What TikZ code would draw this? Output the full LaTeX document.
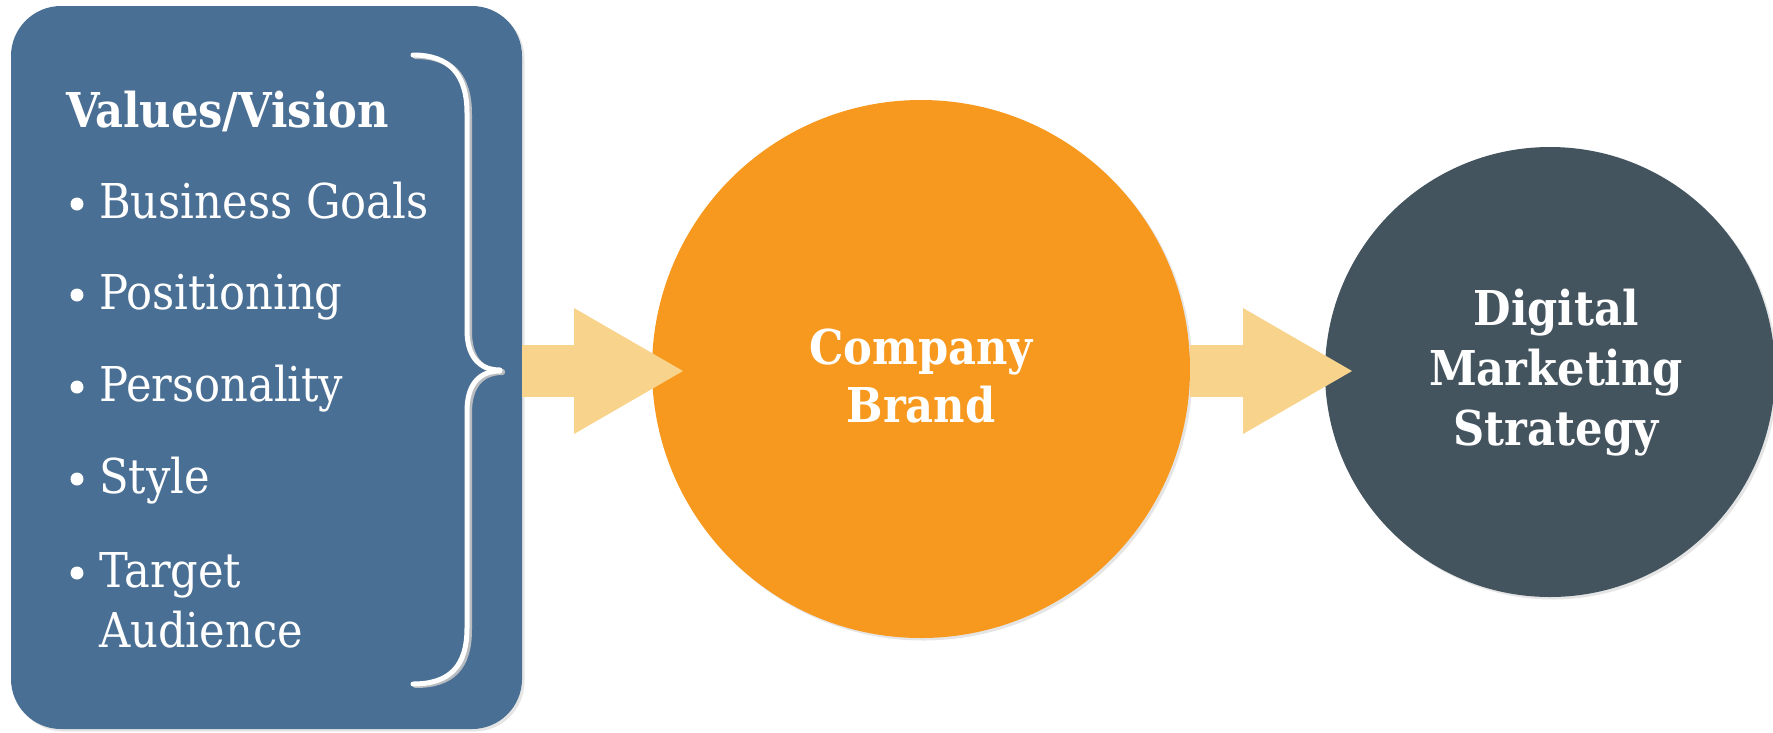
\documentclass[tikz,border=0pt]{standalone}
\usepackage{fontspec}
\setmainfont{DejaVu Serif Condensed}
\usetikzlibrary{arrows.meta}
\definecolor{boxblue}{HTML}{4A6F94}
\definecolor{brandorange}{HTML}{F7991E}
\definecolor{darkslate}{HTML}{43545F}
\definecolor{arrowc}{HTML}{F8D38B}
\definecolor{braceshade}{HTML}{B8BCC0}
\begin{document}
\begin{tikzpicture}[x=1pt,y=-1pt,
  itemtext/.style={font=\fontsize{48}{58}\selectfont, text=white, anchor=base west, inner sep=0pt},
  headtext/.style={font=\bfseries\fontsize{48}{58}\selectfont, text=white, anchor=base west, inner sep=0pt},
  circtext/.style={font=\bfseries\fontsize{48}{58}\selectfont, text=white, anchor=base, inner sep=0pt},
  bulletdot/.style={circle, fill=white, minimum size=13pt, inner sep=0pt},
  fatarrow/.style={draw=arrowc, line width=52pt, -{Triangle[length=109pt, width=126pt, line width=0pt]}},
  softshadow/.style={fill=black, opacity=0.10}
]
\useasboundingbox (0,0) rectangle (1773,732);
% shadows
\node[rectangle, rounded corners=50pt, minimum width=511pt, minimum height=723pt, softshadow] (boxsh) at (269,370) {};
\node[circle, minimum size=538pt, softshadow] (orsh) at (923.5,371.5) {};
\node[circle, minimum size=450pt, softshadow] (dksh) at (1552.5,374.5) {};
% main shapes
\node[rectangle, rounded corners=50pt, minimum width=511pt, minimum height=723pt, fill=boxblue] (box) at (266.5,367.5) {};
\node[circle, minimum size=538pt, fill=brandorange] (orange) at (921,369) {};
\node[circle, minimum size=450pt, fill=darkslate] (dark) at (1550,372) {};
% arrows
\coordinate (t1) at (683,371);
\coordinate (t2) at (1352,371);
\draw[fatarrow] (box.east |- t1) -- (t1);
\draw[fatarrow] (orange.east |- t2) -- (t2);
% brace
\begin{scope}[line width=5pt, line cap=round]
\draw[braceshade, shift={(2.5,1.5)}]
  (413,55) .. controls (450,55) and (467,75) .. (467,113) -- (467,330)
  .. controls (467,355) and (478,370) .. (500,370);
\draw[braceshade, shift={(2.5,1.5)}]
  (500,371) .. controls (478,371) and (467,386) .. (467,411) -- (467,628)
  .. controls (467,666) and (450,684) .. (413,684);
\draw[white]
  (413,55) .. controls (450,55) and (467,75) .. (467,113) -- (467,330)
  .. controls (467,355) and (478,370) .. (500,370);
\draw[white]
  (500,371) .. controls (478,371) and (467,386) .. (467,411) -- (467,628)
  .. controls (467,666) and (450,684) .. (413,684);
\end{scope}
% left column text
\node[headtext] (head) at (66,127) {Values/Vision};
\node[bulletdot] (b1) at (77,204) {};
\node[itemtext] (i1) at (99,218) {Business Goals};
\node[bulletdot] (b2) at (77,295) {};
\node[itemtext] (i2) at (99,309) {Positioning};
\node[bulletdot] (b3) at (77,387) {};
\node[itemtext] (i3) at (99,401) {Personality};
\node[bulletdot] (b4) at (77,479) {};
\node[itemtext] (i4) at (99,493) {Style};
\node[bulletdot] (b5) at (77,573) {};
\node[itemtext] (i5) at (99,587) {Target};
\node[itemtext] (i6) at (99,647) {Audience};
% circle text
\node[circtext] (c1) at (921,364) {Company};
\node[circtext] (c2) at (921,422) {Brand};
\node[circtext] (d1) at (1556,325) {Digital};
\node[circtext] (d2) at (1556,385) {Marketing};
\node[circtext] (d3) at (1556,445) {Strategy};
\end{tikzpicture}
\end{document}
